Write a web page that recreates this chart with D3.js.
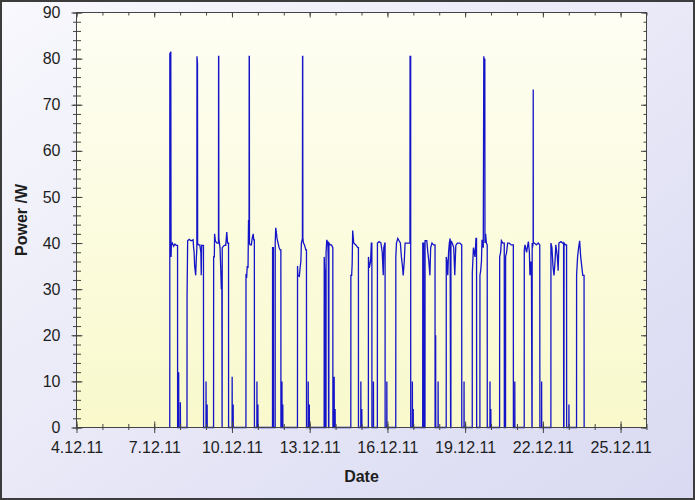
<!DOCTYPE html>
<html><head><meta charset="utf-8">
<script src="https://cdn.jsdelivr.net/npm/d3@7"></script>
<style>html,body{margin:0;padding:0;background:#fff}svg{display:block}</style>
</head><body>
<svg id="chart" width="695" height="500"></svg>
<script>
// ---- data ----
const yTickValues = [0, 10, 20, 30, 40, 50, 60, 70, 80, 90];
const yMinorValues = d3.range(0, 91, 2);
const xTickDays = [4, 7, 10, 13, 16, 19, 22, 25];   // day of December 2011
const xMinorDays = d3.range(4, 27);
const xDomainDays = [4, 26];
const yLabel = "Power /W";
const xLabel = "Date";
// [day of December 2011 (fractional), power in W]
const readings = [
  [7.600,0],[7.602,81],[7.640,81.5],[7.645,56],[7.650,37],[7.660,39.5],[7.700,40],[7.750,39.3],[7.800,39.8],[7.850,39.5],[7.900,39.5],[7.903,0],
  [7.942,0],[7.944,12],[7.948,0],[8.007,0],[8.009,5.5],[8.013,0],
  [8.265,0],[8.267,28],[8.290,40.5],[8.350,40.8],[8.420,40.5],[8.500,40.7],[8.520,39],[8.540,38],[8.560,35],[8.580,34],[8.600,33],[8.620,36],[8.645,39],[8.650,80.5],[8.670,79],[8.675,40],[8.700,39.6],[8.760,39.6],[8.800,38],[8.815,33],[8.830,39.5],[8.900,39.5],[8.905,0],
  [8.998,0],[9.000,10],[9.004,0],[9.040,0],[9.042,5],[9.046,0],
  [9.290,0],[9.293,37],[9.320,37],[9.330,42],[9.360,40.5],[9.420,40],[9.480,40],[9.484,80.5],[9.490,80.5],[9.494,41],[9.540,39],[9.570,34],[9.590,30],[9.610,34],[9.620,0],[9.625,39],[9.700,39.5],[9.760,39.5],[9.800,42.4],[9.830,40],[9.868,40],[9.870,0],
  [10.005,0],[10.008,11],[10.012,0],[10.045,0],[10.047,5],[10.050,0],
  [10.540,0],[10.542,33],[10.570,32.8],[10.590,35],[10.620,34.6],[10.640,45],[10.660,40],[10.665,80.5],[10.672,80.5],[10.676,40],[10.700,39.6],[10.750,39.6],[10.780,41],[10.820,42],[10.840,40.7],[10.865,40.7],[10.868,0],
  [10.962,0],[10.964,10],[10.968,0],[11.000,0],[11.002,5],[11.006,0],
  [11.565,0],[11.568,39],[11.600,39],[11.603,0],[11.668,0],[11.670,40],[11.690,43.3],[11.710,42.5],[11.740,41],[11.780,40],[11.820,39],[11.860,38.5],[11.888,38.5],[11.890,0],
  [11.928,0],[11.930,10],[11.934,0],[11.960,0],[11.962,5],[11.966,0],
  [12.528,0],[12.531,35],[12.545,33],[12.600,32.8],[12.630,34.6],[12.660,36],[12.680,40],[12.720,41],[12.725,80.5],[12.732,80.5],[12.737,41],[12.760,40],[12.800,39.6],[12.850,38.5],[12.876,38.5],[12.878,0],
  [12.942,0],[12.944,10],[12.948,0],[12.985,0],[12.987,5],[12.990,0],
  [13.558,0],[13.561,37],[13.580,34],[13.600,34],[13.603,0],[13.630,0],[13.633,38],[13.660,40.7],[13.700,40],[13.720,36],[13.730,0],[13.740,0],[13.743,40],[13.790,39.6],[13.840,39.6],[13.893,39],[13.896,0],
  [13.944,0],[13.946,11],[13.950,0],[13.980,0],[13.982,4],[13.986,0],
  [14.588,0],[14.590,33],[14.620,33],[14.640,35.5],[14.660,42.7],[14.700,40],[14.780,39.6],[14.860,39],[14.881,39],[14.883,0],
  [14.973,0],[14.975,10],[14.979,0],[15.010,0],[15.012,4],[15.016,0],
  [15.265,0],[15.268,37],[15.300,34.6],[15.350,36],[15.380,40],[15.400,40],[15.403,0],[15.459,0],[15.461,10],[15.465,0],
  [15.612,0],[15.615,40],[15.680,40.3],[15.750,40],[15.800,38],[15.840,33],[15.860,39],[15.900,40],[15.910,40],[15.912,0],
  [15.976,0],[15.978,10],[15.982,0],
  [16.322,0],[16.325,37],[16.350,40],[16.400,41],[16.450,40.5],[16.500,40],[16.540,37],[16.580,35],[16.610,33],[16.650,36],[16.683,40],[16.750,40],[16.820,40],[16.870,40],[16.874,80.5],[16.898,80.5],[16.900,0],
  [16.962,0],[16.964,10],[16.968,0],[16.995,0],[16.997,4],[17.000,0],
  [17.362,0],[17.365,40],[17.400,40],[17.403,0],[17.450,0],[17.453,40.5],[17.520,40.5],[17.560,38],[17.600,36],[17.640,33],[17.670,39],[17.720,40],[17.780,39.6],[17.838,39.6],[17.840,0],
  [17.860,0],[17.862,20],[17.866,0],[17.955,0],[17.957,10],[17.961,0],
  [18.270,0],[18.272,37],[18.300,36],[18.330,33],[18.360,38],[18.390,40],[18.420,41],[18.440,0],[18.450,0],[18.452,40.5],[18.500,40],[18.560,39],[18.600,33],[18.640,39.5],[18.700,40],[18.800,40],[18.860,39.6],[18.868,39.6],[18.870,0],
  [18.956,0],[18.958,10],[18.962,0],
  [19.275,0],[19.277,33.5],[19.320,39],[19.380,37],[19.418,41],[19.440,41],[19.445,0],
  [19.570,0],[19.572,33],[19.600,34],[19.630,36],[19.650,40.7],[19.700,39],[19.720,80.5],[19.740,79],[19.760,80],[19.765,40],[19.790,42],[19.820,40],[19.852,39.6],[19.855,0],
  [19.957,0],[19.959,10],[19.963,0],[19.990,0],[19.992,4],[19.996,0],
  [20.330,0],[20.333,37],[20.370,38],[20.400,40.5],[20.450,40],[20.510,40],[20.513,0],[20.560,0],[20.562,37],[20.600,38],[20.640,40],[20.700,40],[20.780,39.6],[20.860,39.6],[20.863,0],
  [20.915,0],[20.917,10],[20.921,0],
  [21.280,0],[21.283,38.5],[21.310,39.6],[21.370,38],[21.440,40.3],[21.480,38],[21.500,33],[21.540,36],[21.560,33],[21.580,0],[21.585,0],[21.588,40],[21.600,39],[21.625,40],[21.628,73.3],[21.632,40],[21.680,40],[21.750,39.6],[21.820,40],[21.880,39.6],[21.885,0],
  [21.950,0],[21.952,10],[21.956,0],
  [22.310,0],[22.312,40],[22.350,39],[22.390,35],[22.430,33],[22.470,36],[22.500,39.6],[22.560,37],[22.590,34],[22.620,40],[22.700,40.3],[22.760,40],[22.800,40],[22.803,0],[22.815,0],[22.818,40],[22.870,39.6],[22.915,39.6],[22.918,0],
  [23.004,0],[23.006,5],[23.010,0],
  [23.300,0],[23.302,33],[23.340,37],[23.380,39],[23.420,40.5],[23.460,37],[23.500,35],[23.540,33],[23.590,33],[23.593,0]
];

// ---- helpers ----
const dayToDate = d => new Date(new Date(2011, 11, 1).getTime() + (d - 1) * 86400000);
const fmt = d3.timeFormat("%-d.%m.%y");

const W = 695, H = 500;
const plot = {left: 76.5, right: 646.5, top: 12.5, bottom: 427.5};

const svg = d3.select("#chart");
const defs = svg.append("defs");

const bg = defs.append("linearGradient").attr("id", "bgGrad")
  .attr("x1", "0%").attr("y1", "0%").attr("x2", "100%").attr("y2", "100%");
bg.append("stop").attr("offset", "0%").attr("stop-color", "#f8f8fd");
bg.append("stop").attr("offset", "100%").attr("stop-color", "#d9d9f2");

const pg = defs.append("linearGradient").attr("id", "plotGrad")
  .attr("x1", "0%").attr("y1", "0%").attr("x2", "0%").attr("y2", "100%");
pg.append("stop").attr("offset", "0%").attr("stop-color", "#fefef4");
pg.append("stop").attr("offset", "100%").attr("stop-color", "#f9f9cc");

svg.append("rect").attr("x", 0).attr("y", 0).attr("width", W).attr("height", H)
  .attr("fill", "url(#bgGrad)");
svg.append("rect").attr("x", 1).attr("y", 1).attr("width", W - 2).attr("height", H - 2)
  .attr("fill", "none").attr("stroke", "#3c3c3c").attr("stroke-width", 2);

svg.append("rect").attr("x", plot.left).attr("y", plot.top)
  .attr("width", plot.right - plot.left).attr("height", plot.bottom - plot.top)
  .attr("fill", "url(#plotGrad)");

const x = d3.scaleTime()
  .domain(xDomainDays.map(dayToDate))
  .range([plot.left, plot.right]);
const y = d3.scaleLinear().domain([0, 90]).range([plot.bottom, plot.top]);

const axisColor = "#444";
const textColor = "#1e1e1e";
const font = "'Liberation Sans', Arial, sans-serif";

function styleAxis(g) {
  g.select(".domain").remove();
  g.selectAll("line").attr("stroke", axisColor).attr("stroke-width", 1);
  g.selectAll("text").attr("fill", textColor).style("font-family", font).style("font-size", "16px");
}

// data line (drawn first so axes sit on top)
const line = d3.line()
  .x(d => x(dayToDate(d[0])))
  .y(d => y(d[1]));
svg.append("path").datum(readings)
  .attr("fill", "none").attr("stroke", "#1414c8").attr("stroke-width", 1.3)
  .attr("stroke-linejoin", "miter")
  .attr("d", line);

// frame lines
svg.append("rect").attr("x", plot.left).attr("y", plot.top)
  .attr("width", plot.right - plot.left).attr("height", plot.bottom - plot.top)
  .attr("fill", "none").attr("stroke", axisColor).attr("stroke-width", 1);

// bottom axis: minor
svg.append("g").attr("transform", `translate(0,${plot.bottom})`)
  .call(d3.axisBottom(x).tickValues(xMinorDays.map(dayToDate)).tickFormat("").tickSize(2.5).tickSizeOuter(0))
  .call(styleAxis)
  .selectAll(".tick line").attr("y1", -3.5);
// bottom axis: major
svg.append("g").attr("transform", `translate(0,${plot.bottom})`)
  .call(d3.axisBottom(x).tickValues(xTickDays.map(dayToDate)).tickFormat(fmt).tickSize(5.5).tickSizeOuter(0).tickPadding(9))
  .call(styleAxis)
  .selectAll(".tick line").attr("y1", -6);

// top axis ticks
svg.append("g").attr("transform", `translate(0,${plot.top})`)
  .call(d3.axisTop(x).tickValues(xMinorDays.map(dayToDate)).tickFormat("").tickSize(-3).tickSizeOuter(0))
  .call(styleAxis);
svg.append("g").attr("transform", `translate(0,${plot.top})`)
  .call(d3.axisTop(x).tickValues(xTickDays.map(dayToDate)).tickFormat("").tickSize(-5).tickSizeOuter(0))
  .call(styleAxis);

// left axis: minor
svg.append("g").attr("transform", `translate(${plot.left},0)`)
  .call(d3.axisLeft(y).tickValues(yMinorValues).tickFormat("").tickSize(3.5).tickSizeOuter(0))
  .call(styleAxis)
  .selectAll(".tick line").attr("x1", 4.5);
// left axis: major
svg.append("g").attr("transform", `translate(${plot.left},0)`)
  .call(d3.axisLeft(y).tickValues(yTickValues).tickFormat(d3.format("d")).tickSize(5).tickSizeOuter(0).tickPadding(11))
  .call(styleAxis)
  .selectAll(".tick line").attr("x1", 6);

// right axis ticks
svg.append("g").attr("transform", `translate(${plot.right},0)`)
  .call(d3.axisRight(y).tickValues(yMinorValues).tickFormat("").tickSize(-3).tickSizeOuter(0))
  .call(styleAxis);
svg.append("g").attr("transform", `translate(${plot.right},0)`)
  .call(d3.axisRight(y).tickValues(yTickValues).tickFormat("").tickSize(-5.5).tickSizeOuter(0))
  .call(styleAxis);

// axis titles
svg.append("text")
  .attr("x", (plot.left + plot.right) / 2).attr("y", 482)
  .attr("text-anchor", "middle")
  .attr("fill", textColor).style("font-family", font).style("font-size", "16px").style("font-weight", "bold")
  .text(xLabel);
svg.append("text")
  .attr("transform", `translate(26.5,${(plot.top + plot.bottom) / 2}) rotate(-90)`)
  .attr("text-anchor", "middle")
  .attr("fill", textColor).style("font-family", font).style("font-size", "16px").style("font-weight", "bold")
  .text(yLabel);
</script>
</body></html>
